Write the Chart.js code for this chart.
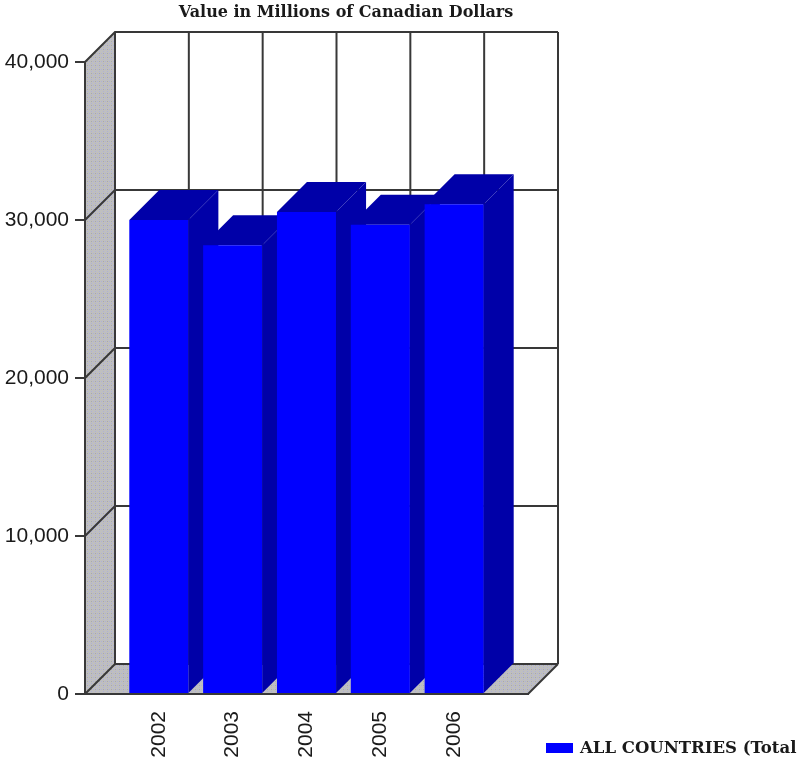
<!DOCTYPE html>
<html>
<head>
<meta charset="utf-8">
<title>Value in Millions of Canadian Dollars</title>
<script src="https://cdn.jsdelivr.net/npm/chart.js@4/dist/chart.umd.min.js"></script>
<style>
  html, body { margin: 0; padding: 0; background: #fff; }
  #wrap { width: 800px; height: 764px; }
</style>
</head>
<body>
<div id="wrap"><canvas id="chart" width="800" height="764"></canvas></div>
<script>
// Data
const years = ["2002", "2003", "2004", "2005", "2006"];
const values = [30000, 28400, 30500, 29700, 31000];
const seriesName = "ALL COUNTRIES (Total";
const titleText = "Value in Millions of Canadian Dollars";
const yMax = 40000;
const yStep = 10000;

const DEPTH = 30;          // 3D depth offset in px
const LINE = "#383838";
const SIDE_BLUE = "#0000a8";

function wallPattern(ctx) {
  const c = document.createElement("canvas");
  c.width = 4; c.height = 4;
  const p = c.getContext("2d");
  p.fillStyle = "#bfbfbf"; p.fillRect(0, 0, 4, 4);
  p.fillStyle = "#aeb0d8"; p.fillRect(1, 1, 1, 1); p.fillRect(3, 3, 1, 1);
  p.fillStyle = "#a9a9a9"; p.fillRect(3, 1, 1, 1);
  return ctx.createPattern(c, "repeat");
}

function line(ctx, pts) {
  ctx.beginPath();
  ctx.moveTo(pts[0][0], pts[0][1]);
  for (let i = 1; i < pts.length; i++) ctx.lineTo(pts[i][0], pts[i][1]);
  ctx.stroke();
}

function poly(ctx, pts, fill) {
  ctx.beginPath();
  ctx.moveTo(pts[0][0], pts[0][1]);
  for (let i = 1; i < pts.length; i++) ctx.lineTo(pts[i][0], pts[i][1]);
  ctx.closePath();
  ctx.fillStyle = fill;
  ctx.fill();
}

// Walls, floor and back grid
const box3d = {
  id: "box3d",
  beforeDraw(chart) {
    const { ctx, chartArea: a, scales } = chart;
    const L = a.left, R = a.right, T = a.top, B = a.bottom, D = DEPTH;
    ctx.save();
    ctx.fillStyle = "#fff";
    ctx.fillRect(0, 0, chart.width, chart.height);
    const pat = wallPattern(ctx);
    poly(ctx, [[L, T], [L + D, T - D], [L + D, B - D], [L, B]], pat);
    poly(ctx, [[L, B], [L + D, B - D], [R + D, B - D], [R, B]], pat);
    poly(ctx, [[L + D, T - D], [R + D, T - D], [R + D, B - D], [L + D, B - D]], "#fff");

    ctx.strokeStyle = LINE;
    ctx.lineWidth = 2;
    for (let v = 0; v <= yMax; v += yStep) {
      const py = scales.y.getPixelForValue(v);
      line(ctx, [[L, py], [L + D, py - D], [R + D, py - D]]);
    }
    years.forEach((_, i) => {
      const px = scales.x.getPixelForValue(i) + D;
      line(ctx, [[px, T - D], [px, B - D]]);
    });
    line(ctx, [[L + D, T - D], [L + D, B - D]]);
    line(ctx, [[R + D, T - D], [R + D, B - D]]);
    line(ctx, [[R, B], [R + D, B - D]]);
    ctx.restore();
  },
  // top and side faces of the bars, fronts come from Chart.js
  beforeDatasetsDraw(chart) {
    const { ctx } = chart;
    const D = DEPTH;
    ctx.save();
    chart.getDatasetMeta(0).data.forEach(bar => {
      const l = bar.x - bar.width / 2, r = bar.x + bar.width / 2;
      const t = bar.y, b = bar.base;
      poly(ctx, [[r, t], [r + D, t - D], [r + D, b - D], [r, b]], SIDE_BLUE);
      poly(ctx, [[l, t], [l + D, t - D], [r + D, t - D], [r, t]], SIDE_BLUE);
    });
    ctx.restore();
  },
  afterDraw(chart) {
    const { ctx } = chart;
    const ds = chart.data.datasets[0];
    ctx.save();
    ctx.fillStyle = "#1a1a1a";
    ctx.textBaseline = "middle";
    ctx.textAlign = "center";
    ctx.font = "bold 16px 'DejaVu Serif'";
    ctx.fillText(titleText, 346, 13);

    ctx.fillStyle = ds.backgroundColor;
    ctx.fillRect(546, 743, 27, 10);
    ctx.fillStyle = "#1a1a1a";
    ctx.textAlign = "left";
    ctx.textBaseline = "alphabetic";
    ctx.font = "bold 16.5px 'DejaVu Serif'";
    ctx.fillText(ds.label, 580, 753);
    ctx.restore();
  }
};

const tickFont = { family: "'Liberation Sans', Arial, sans-serif", size: 21 };

new Chart(document.getElementById("chart"), {
  type: "bar",
  data: {
    datasets: [{
      label: seriesName,
      data: values.map((v, i) => ({ x: i, y: v })),
      backgroundColor: "#0000ff",
      borderWidth: 0,
      barPercentage: 0.8,
      categoryPercentage: 1
    }]
  },
  options: {
    responsive: false,
    animation: false,
    devicePixelRatio: 1,
    layout: { padding: { top: 62, left: 0, right: 272, bottom: 0 } },
    plugins: {
      legend: { display: false },
      title: { display: false },
      tooltip: { enabled: false }
    },
    scales: {
      x: {
        type: "linear",
        min: -1,
        max: 5,
        offset: false,
        z: 1,
        grid: { display: false },
        border: { display: true, color: LINE, width: 2 },
        ticks: {
          stepSize: 1,
          autoSkip: false,
          minRotation: 90,
          maxRotation: 90,
          padding: 9,
          color: "#1a1a1a",
          font: tickFont,
          callback: v => (Number.isInteger(v) && years[v]) ? years[v] : ""
        },
        afterFit: s => { s.height = 70; }
      },
      y: {
        min: 0,
        max: yMax,
        grid: { drawOnChartArea: false, drawTicks: true, tickLength: 10, color: LINE, lineWidth: 2 },
        border: { display: true, color: LINE, width: 2 },
        ticks: { stepSize: yStep, padding: 6, color: "#1a1a1a", font: tickFont },
        afterFit: s => { s.width = 85; }
      }
    }
  },
  plugins: [box3d]
});
</script>
</body>
</html>
